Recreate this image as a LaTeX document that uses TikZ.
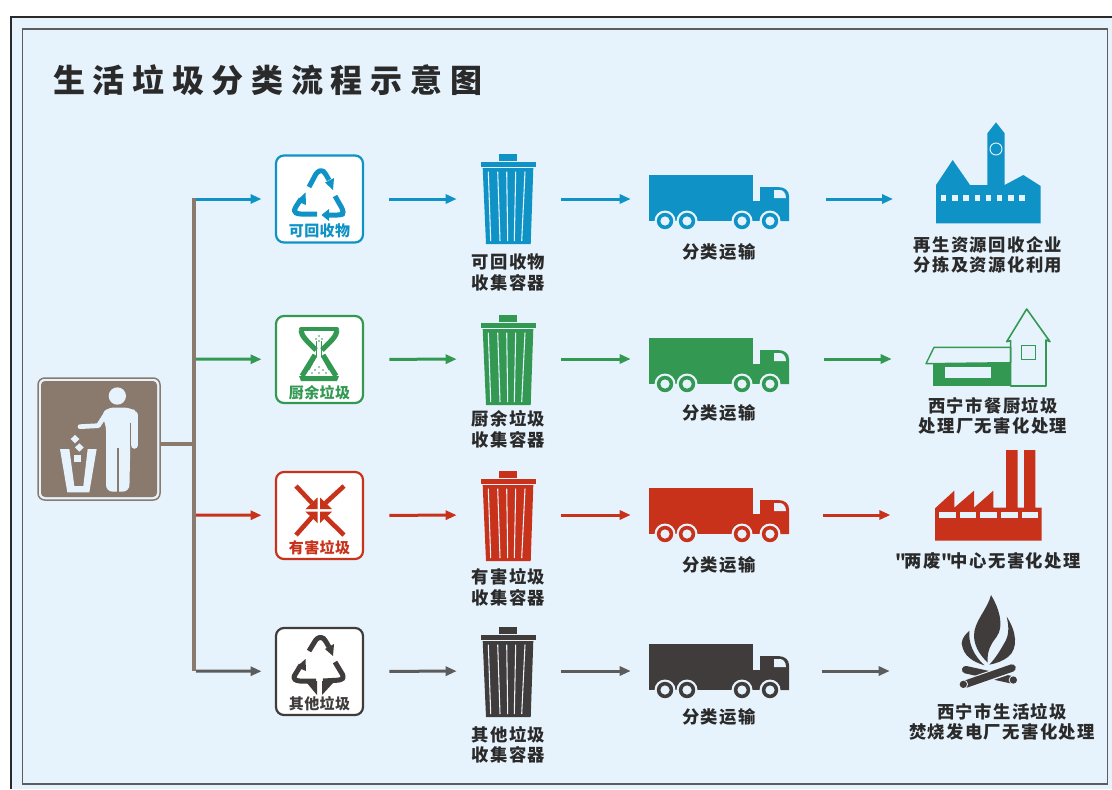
\documentclass[tikz,border=0pt]{standalone}
\usepackage{fontspec}
\usetikzlibrary{arrows.meta}
\setmainfont{Noto Sans CJK SC}
\newfontfamily\titlefont{Noto Sans CJK SC}[LetterSpace=24]
\newfontfamily\labfont{Noto Sans CJK SC}[LetterSpace=8]
\newfontfamily\iconfont{Noto Sans CJK SC}[LetterSpace=3]
\definecolor{cbg}{HTML}{E7F3FC}
\definecolor{cblue}{HTML}{0F93C6}
\definecolor{cgreen}{HTML}{339952}
\definecolor{cred}{HTML}{C8321A}
\definecolor{cdark}{HTML}{403C3B}
\definecolor{cbrown}{HTML}{8A7A6E}
\definecolor{cgrey}{HTML}{5C5C5C}
\definecolor{ctext}{HTML}{2A2A2A}
\tikzset{
  boxnode/.style={draw=none,inner sep=0pt,minimum width=#1*0.75pt,minimum height=20*0.75pt},
  iconbox/.style={draw=#1,fill=white,line width=2.2*0.75pt,rounded corners=6pt,inner sep=0pt,minimum width=87*0.75pt,minimum height=87*0.75pt},
  flow/.style={draw=#1,line width=3*0.75pt,-{Triangle[length=11*0.75pt,width=9*0.75pt,fill=#1]}},
  lab/.style={font=\labfont\bfseries\fontsize{13}{15.4}\selectfont,text=ctext,align=center,inner sep=0pt},
  iconlab/.style={font=\iconfont\bfseries\fontsize{11.25}{13}\selectfont,text=#1,inner sep=0pt},
  band/.style={draw=#1,line width=5*0.75pt,line join=round}
}
% recycling shape, local coordinates from box corner
\newcommand{\recyc}[1]{%
  \draw[band=#1,rounded corners=2pt] (33,32)--(41,17)--(46,15)--(49,18)--(53,25);
  \fill[#1] (49,27.5)--(58,23)--(57,35)--cycle;
  \draw[band=#1,rounded corners=2pt] (59,41)--(67,55)--(67,59)--(64,60)--(53,60);
  \fill[#1] (53,54)--(53,66)--(45.5,60)--cycle;
  \draw[band=#1,rounded corners=2pt] (41,59)--(22,59)--(18,57)--(19,53)--(25,44);
  \fill[#1] (20.5,46)--(30,50)--(29.5,37.5)--cycle;
}
\newcommand{\drawbin}[2]{%
  \begin{scope}[shift={(0,#2)}]
    \fill[#1] (499.3,154.3) rectangle (516.7,160.7);
    \fill[#1] (480.7,162.3) rectangle (536,167);
    \fill[#1] (482.7,168.2)--(533.3,168.2)--(530.7,244)--(486,244)--cycle;
    \draw[cbg,line width=0.8] (488.3,171.7)--(490.7,241) (497.7,171.7)--(500,241)
      (506.7,171.7)--(507.7,241) (515.7,171.7)--(514.3,241) (525,171.7)--(521.7,241);
  \end{scope}}
\newcommand{\drawtruck}[2]{%
  \begin{scope}[shift={(0,#2)}]
    \fill[#1] (649,175) rectangle (753,221);
    \fill[#1] (753,201) rectangle (761,221);
    \fill[#1] (760,221)--(760,187)--(778,187) .. controls (785,187) and (789,191) .. (789,196)--(789,221)--cycle;
    \fill[cbg] (774,190)--(780,190) .. controls (783,190) and (786,193) .. (786,198)--(774,198)--cycle;
    \foreach \wx in {665,687,742,770}{
      \fill[cbg] (\wx,221) circle (10.5);
      \fill[#1] (\wx,221) circle (8.2);
      \fill[cbg] (\wx,221) circle (4.6);
    }
  \end{scope}}
\begin{document}
\begin{tikzpicture}[x=0.75pt,y=-0.75pt]
\useasboundingbox (0,0) rectangle (1112,789);
\fill[white] (0,0) rectangle (1112,789);
\fill[cbg] (11,17) rectangle (1112,789);
\draw[color=ctext,line width=2.1] (11,789)--(11,17)--(1112,17);
\draw[color=cgrey,line width=1.1] (22.5,29) rectangle (1107.5,784);
\node[anchor=west,inner sep=0pt,font=\titlefont\bfseries\fontsize{24}{26}\selectfont,text=ctext] (title) at (53,80) {生活垃圾分类流程示意图};

% source pictogram
\node[draw=cbrown,line width=1.5*0.75pt,rounded corners=5pt,inner sep=0pt,minimum width=122*0.75pt,minimum height=122*0.75pt] (src) at (99,439) {};
\fill[cbrown,rounded corners=3pt] (41,381) rectangle (157,497);
\begin{scope}[shift={(20,360)},x=0.25pt,y=-0.25pt]
  \fill[cbg] (292,108) circle (26);
  \draw[cbg,line width=4.7*0.75pt,line cap=round,line join=round] (180,200)--(235,197)--(262,155);
  \draw[cbg,line width=7.5*0.75pt,line cap=round] (343,165)--(343,255);
  \fill[cbg,rounded corners=5pt] (258,143)--(335,143)--(354,160)--(332,200)--(328,395)--(258,395)--(258,190)--(245,170)--cycle;
  \draw[cbrown,line width=2*0.75pt] (293,265)--(293,397);
  \draw[cbrown,line width=0.8*0.75pt] (331,190)--(331,262);
  \fill[cbg] (120,267)--(148,267)--(163,378)--(190,378)--(203,267)--(230,267)--(208,397)--(142,397)--cycle;
  \fill[cbg] (165,225)--(178,237)--(165,250)--(152,237)--cycle;
  \fill[cbg] (178,250)--(191,262)--(178,275)--(165,262)--cycle;
  \fill[cbg] (162,285) rectangle (183,306);
\end{scope}

% trunk
\coordinate (t0) at (194,444);
\coordinate (t1) at (194,199);
\coordinate (t2) at (194,359);
\coordinate (t3) at (194,515);
\coordinate (t4) at (194,671);
\draw[cbrown,line width=3.5*0.75pt] (src.east |- t0)--(t0);

% icon boxes
\node[iconbox=cblue]  (icon1) at (319.5,199) {};
\node[iconbox=cgreen] (icon2) at (319.5,359.5) {};
\node[iconbox=cred]   (icon3) at (319.5,515.5) {};
\node[iconbox=cdark]  (icon4) at (319.5,671.5) {};

\begin{scope}[shift={(276,155)}]\recyc{cblue}\end{scope}
\node[iconlab=cblue] (il1) at (319.5,231) {可回收物};

% hourglass
\begin{scope}[shift={(276,316)}]
  \draw[band=cgreen,line width=4*0.75pt,line cap=round] (25,13)--(61,13);
  \draw[band=cgreen,line width=5.2*0.75pt] (25,14) .. controls (25,20) and (32,26) .. (40,34);
  \draw[band=cgreen,line width=5.2*0.75pt] (61,14) .. controls (61,20) and (54,26) .. (46,34);
  \draw[band=cgreen,line width=5.2*0.75pt] (39,39) -- (26,60);
  \draw[band=cgreen,line width=5.2*0.75pt] (47,39) -- (60,60);
  \fill[cgreen] (23,60)--(63,60)--(61,65)--(25,65)--cycle;
  \draw[cgreen,line width=0.8*0.75pt] (40.5,25)--(40.5,40)--(33,54) (45.5,25)--(45.5,40)--(53,54);
  \foreach \dx/\dy in {43/20,40/23,46/23,43/25,43/51,39/54,47/54,36/57,43/57,50/57}{\fill[cgreen] (\dx,\dy) circle (0.9);}
\end{scope}
\node[iconlab=cgreen] (il2) at (319.5,393) {厨余垃圾};

% hazard
\begin{scope}[shift={(276,472)}]
  \draw[cred,line width=4.6*0.75pt] (20,14)--(36,31) (68,14)--(49.5,31) (20,63)--(36,45) (68,63)--(49.5,45);
  \fill[cred] (41.5,25.5)--(41.5,37.2)--(29.3,37.2)--cycle;
  \fill[cred] (44,25.5)--(44,37.2)--(56.2,37.2)--cycle;
  \fill[cred] (41.5,51)--(41.5,39.5)--(29.3,39.5)--cycle;
  \fill[cred] (44,51)--(44,39.5)--(56.2,39.5)--cycle;
\end{scope}
\node[iconlab=cred] (il3) at (319.5,548) {有害垃圾};

% other
\begin{scope}[shift={(276,628)}]
  \draw[band=cdark,rounded corners=2pt] (33,23)--(41,10)--(46,9)--(49,12)--(53,19);
  \fill[cdark] (49,21)--(58,16)--(57,28)--cycle;
  \draw[band=cdark,rounded corners=2pt] (59,34)--(68,49)--(65,52)--(47,53);
  \draw[band=cdark,rounded corners=2pt] (40,53)--(21,53)--(17,50)--(25,37);
  \fill[cdark] (20.5,39)--(30,43)--(29.5,31)--cycle;
  \fill[cdark] (31,55)--(41,53)--(41,67)--cycle;
  \fill[cdark] (46,53)--(57,55)--(46,67)--cycle;
\end{scope}
\node[iconlab=cdark] (il4) at (319.5,704) {其他垃圾};

% bins
\drawbin{cblue}{0}
\drawbin{cgreen}{161}
\drawbin{cred}{317}
\drawbin{cdark}{473}
\node[boxnode=56] (bin1) at (508.3,199) {};
\node[boxnode=56] (bin2) at (508.3,359) {};
\node[boxnode=56] (bin3) at (508.3,515) {};
\node[boxnode=56] (bin4) at (508.3,671) {};
\node[lab] (bl1) at (508.5,272.5) {可回收物\\收集容器};
\node[lab] (bl2) at (508.5,429.5) {厨余垃圾\\收集容器};
\node[lab] (bl3) at (508.5,587.5) {有害垃圾\\收集容器};
\node[lab] (bl4) at (508.5,745) {其他垃圾\\收集容器};

% trucks
\drawtruck{cblue}{0}
\drawtruck{cgreen}{163}
\drawtruck{cred}{313}
\drawtruck{cdark}{469}
\node[boxnode=140] (truck1) at (719,199) {};
\node[boxnode=140] (truck2) at (719,359) {};
\node[boxnode=140] (truck3) at (719,515) {};
\node[boxnode=140] (truck4) at (719,671) {};
\node[lab] (tl1) at (719,252) {分类运输};
\node[lab] (tl2) at (719,413) {分类运输};
\node[lab] (tl3) at (719,565) {分类运输};
\node[lab] (tl4) at (719,717) {分类运输};

% plant 1
\begin{scope}[shift={(630,110)},x=0.25pt,y=-0.25pt]
  \fill[cblue] (918,340)--(918,225)--(968,150)--(1020,225)--(1072,225)--(1072,70)--(1098,37)--(1124,70)--(1124,225)--(1180,195)--(1232,228)--(1232,340)--cycle;
  \foreach \k in {0,...,7}{\fill[cbg] ({933+\k*33.6},255) rectangle ({949+\k*33.6},272);}
  \draw[cbg,line width=0.7] (1098,117) circle (18);
\end{scope}
% plant 2
\begin{scope}[shift={(630,110)},x=0.25pt,y=-0.25pt]
  \fill[cgreen] (910,758) rectangle (1142,829);
  \fill[cbg] (945,770) rectangle (1082,804);
  \draw[cgreen,line width=1.4*0.75pt,fill=cbg,line join=round] (888,761)--(912,712)--(1142,712)--(1142,758)--cycle;
  \draw[cgreen,line width=1.6*0.75pt,line join=round] (1142,828)--(1142,692)--(1130,695)--(1190,597)--(1260,695)--(1248,690)--(1248,828)--cycle;
  \draw[cgreen,line width=0.8*0.75pt] (1174,707) rectangle (1216,749);
\end{scope}
% plant 3
\begin{scope}[shift={(800,440)},x=0.25pt,y=-0.25pt]
  \fill[cred] (405,302)--(405,205)--(463,152)--(463,203)--(522,152)--(522,203)--(580,152)--(580,203)--(618,203)--(618,30)--(653,30)--(653,203)--(672,203)--(672,30)--(706,30)--(706,203)--(725,203)--(725,302)--cycle;
  \foreach \a/\b in {417/467,479/529,541/591,603/653,665/713}{\fill[cbg] (\a,217) rectangle (\b,235);}
\end{scope}
% plant 4
\begin{scope}[shift={(800,440)},x=0.25pt,y=-0.25pt]
  \fill[cdark] (573,465) .. controls (562,510) and (520,545) .. (522,590) .. controls (524,625) and (545,650) .. (563,668) .. controls (560,630) and (575,610) .. (590,590) .. controls (612,560) and (600,510) .. (573,465);
  \fill[cdark] (508,572) .. controls (505,610) and (520,645) .. (553,676) .. controls (520,665) and (490,650) .. (485,610) .. controls (486,592) and (500,580) .. (508,572);
  \fill[cdark] (620,530) .. controls (650,575) and (655,625) .. (625,650) .. controls (610,662) and (590,670) .. (568,674) .. controls (590,650) and (600,632) .. (617,602) .. controls (628,580) and (626,555) .. (620,530);
  \draw[cdark,line width=7.5*0.75pt,line cap=round] (497,689)--(638,720);
  \draw[cbg,line width=10*0.75pt] (510,728)--(630,687);
  \draw[cdark,line width=7.5*0.75pt,line cap=round] (495,733)--(636,684);
  \fill[cbg] (490,733) circle (14);
  \fill[cdark] (490,733) circle (11);
  \fill[cbg] (640,720) circle (14);
  \fill[cdark] (640,720) circle (11);
\end{scope}
\node[boxnode=104] (plant1) at (988,199) {};
\node[boxnode=104] (plant2) at (988,359) {};
\node[boxnode=104] (plant3) at (988,515) {};
\node[boxnode=104] (plant4) at (988,671) {};
\node[lab] (pl1) at (988,255) {再生资源回收企业\\分拣及资源化利用};
\node[lab] (pl2) at (993,416) {西宁市餐厨垃圾\\处理厂无害化处理};
\node[lab] (pl3) at (988,561) {"\kern-1.5pt 两废"\kern-1.5pt 中心无害化处理};
\node[lab] (pl4) at (1002,722) {西宁市生活垃圾\\焚烧发电厂无害化处理};

% connectors
\draw[cbrown,line width=3.5*0.75pt,line cap=butt] ([yshift=1pt]t1)--(t4);
\draw[flow=cblue,shorten <=1.5pt,shorten >=10pt] (t1)--(icon1);
\draw[flow=cgreen,shorten <=1.5pt,shorten >=10pt] (t2)--(icon2);
\draw[flow=cred,shorten <=1.5pt,shorten >=10pt] (t3)--(icon3);
\draw[flow=cgrey,shorten <=1.5pt,shorten >=10pt] (t4)--(icon4);
\draw[flow=cblue,shorten <=19pt,shorten >=17.5pt] (icon1)--(bin1);
\draw[flow=cgreen,shorten <=19pt,shorten >=17.5pt] (icon2)--(bin2);
\draw[flow=cred,shorten <=19pt,shorten >=17.5pt] (icon3)--(bin3);
\draw[flow=cgrey,shorten <=19pt,shorten >=17.5pt] (icon4)--(bin4);
\draw[flow=cblue,shorten <=18.5pt,shorten >=13.5pt] (bin1)--(truck1);
\draw[flow=cgreen,shorten <=18.5pt,shorten >=13.5pt] (bin2)--(truck2);
\draw[flow=cred,shorten <=18.5pt,shorten >=13.5pt] (bin3)--(truck3);
\draw[flow=cgrey,shorten <=18.5pt,shorten >=13.5pt] (bin4)--(truck4);
\draw[flow=cblue,shorten <=27.5pt,shorten >=32pt] (truck1)--(plant1);
\draw[flow=cgreen,shorten <=26pt,shorten >=33pt] (truck2)--(plant2);
\draw[flow=cred,shorten <=25pt,shorten >=34pt] (truck3)--(plant3);
\draw[flow=cgrey,shorten <=24.5pt,shorten >=34.5pt] (truck4)--(plant4);
\end{tikzpicture}
\end{document}
